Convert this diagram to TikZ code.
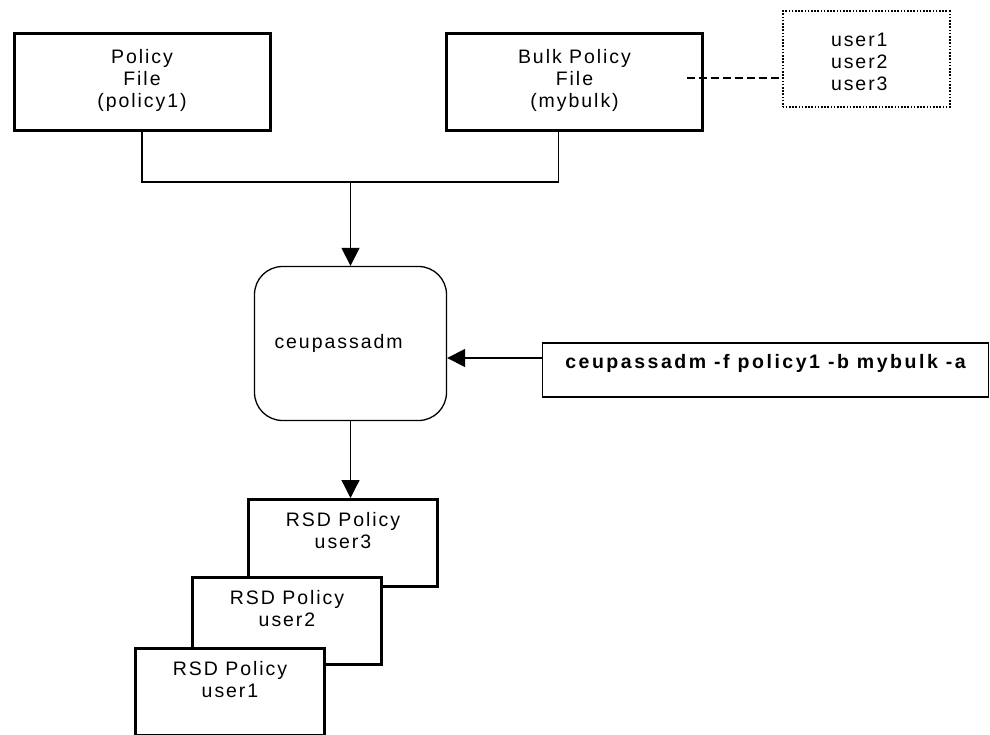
\documentclass[tikz,border=0pt]{standalone}
\usepackage{fontspec}
\setmainfont{Liberation Sans}[LetterSpace=10]
\usetikzlibrary{arrows.meta,calc}

\begin{document}
\begin{tikzpicture}[x=1pt,y=-1pt,
	font=\fontsize{19.5}{22}\selectfont,
	conn/.style={line width=1.3pt},
	tip/.style={-{Triangle[length=18pt,width=18pt]}},
	filebox/.style={draw,line width=3pt,minimum width=256,minimum height=97,inner sep=0pt,align=center,text depth=7.5pt},
	listbox/.style={draw,line width=2pt,dash pattern=on 1.6pt off 1.6pt,minimum width=167,minimum height=96,inner sep=0pt,text width=70,align=left,text height=19pt},
	progbox/.style={draw,line width=1.3pt,rounded corners=28pt,minimum width=192,minimum height=154,inner sep=0pt,text width=152,align=left},
	cmdbox/.style={draw,line width=1.3pt,minimum width=446,minimum height=54,inner sep=0pt,text depth=18pt},
	rsdbox/.style={draw,fill=white,line width=3pt,minimum width=189,minimum height=87,inner sep=0pt,align=center,text depth=24.5pt}]
	\useasboundingbox (0,0) rectangle (990,735);
	% policy files
	\node[filebox] (pol) at (142,81.75) {Policy\\File\\(policy1)};
	\node[filebox] (bulk) at (574.5,81.75) {Bulk Policy\\File\\(mybulk)};
	\node[listbox] (users) at (866,59.5) {user1\\user2\\user3};
	\coordinate (dl) at ([xshift=-17pt,yshift=3.75pt]bulk.east);
	\draw[line width=1.2pt,dash pattern=on 8pt off 4pt] (dl) -- (dl -| users.west);
	% the command
	\node[progbox] (prog) at (350.5,343.5) {ceupassadm};
	\node[cmdbox] (cmd) at (765.5,370) {\bfseries\addfontfeatures{LetterSpace=13}ceupassadm -f policy1 -b mybulk -a};
	\coordinate (mid) at (prog.north |- 0,182);
	\coordinate (bj) at ([xshift=-16pt]bulk.south);
	\draw[conn] (pol.south) |- (mid) -| (bj);
	\draw[conn,tip] (mid) -- (prog.north);
	\draw[conn,tip] ([yshift=12pt]cmd.west) -- ([yshift=12pt]cmd.west -| prog.east);
	% resulting policies
	\node[rsdbox] (r3) at (343,543) {RSD Policy\\user3};
	\node[rsdbox] (r2) at ($(r3)+(-56,77.5)$) {RSD Policy\\user2};
	\node[rsdbox] (r1) at ($(r2)+(-57,71.5)$) {RSD Policy\\user1};
	\draw[conn,tip] (prog.south) -- (prog.south |- r3.north);
\end{tikzpicture}
\end{document}
